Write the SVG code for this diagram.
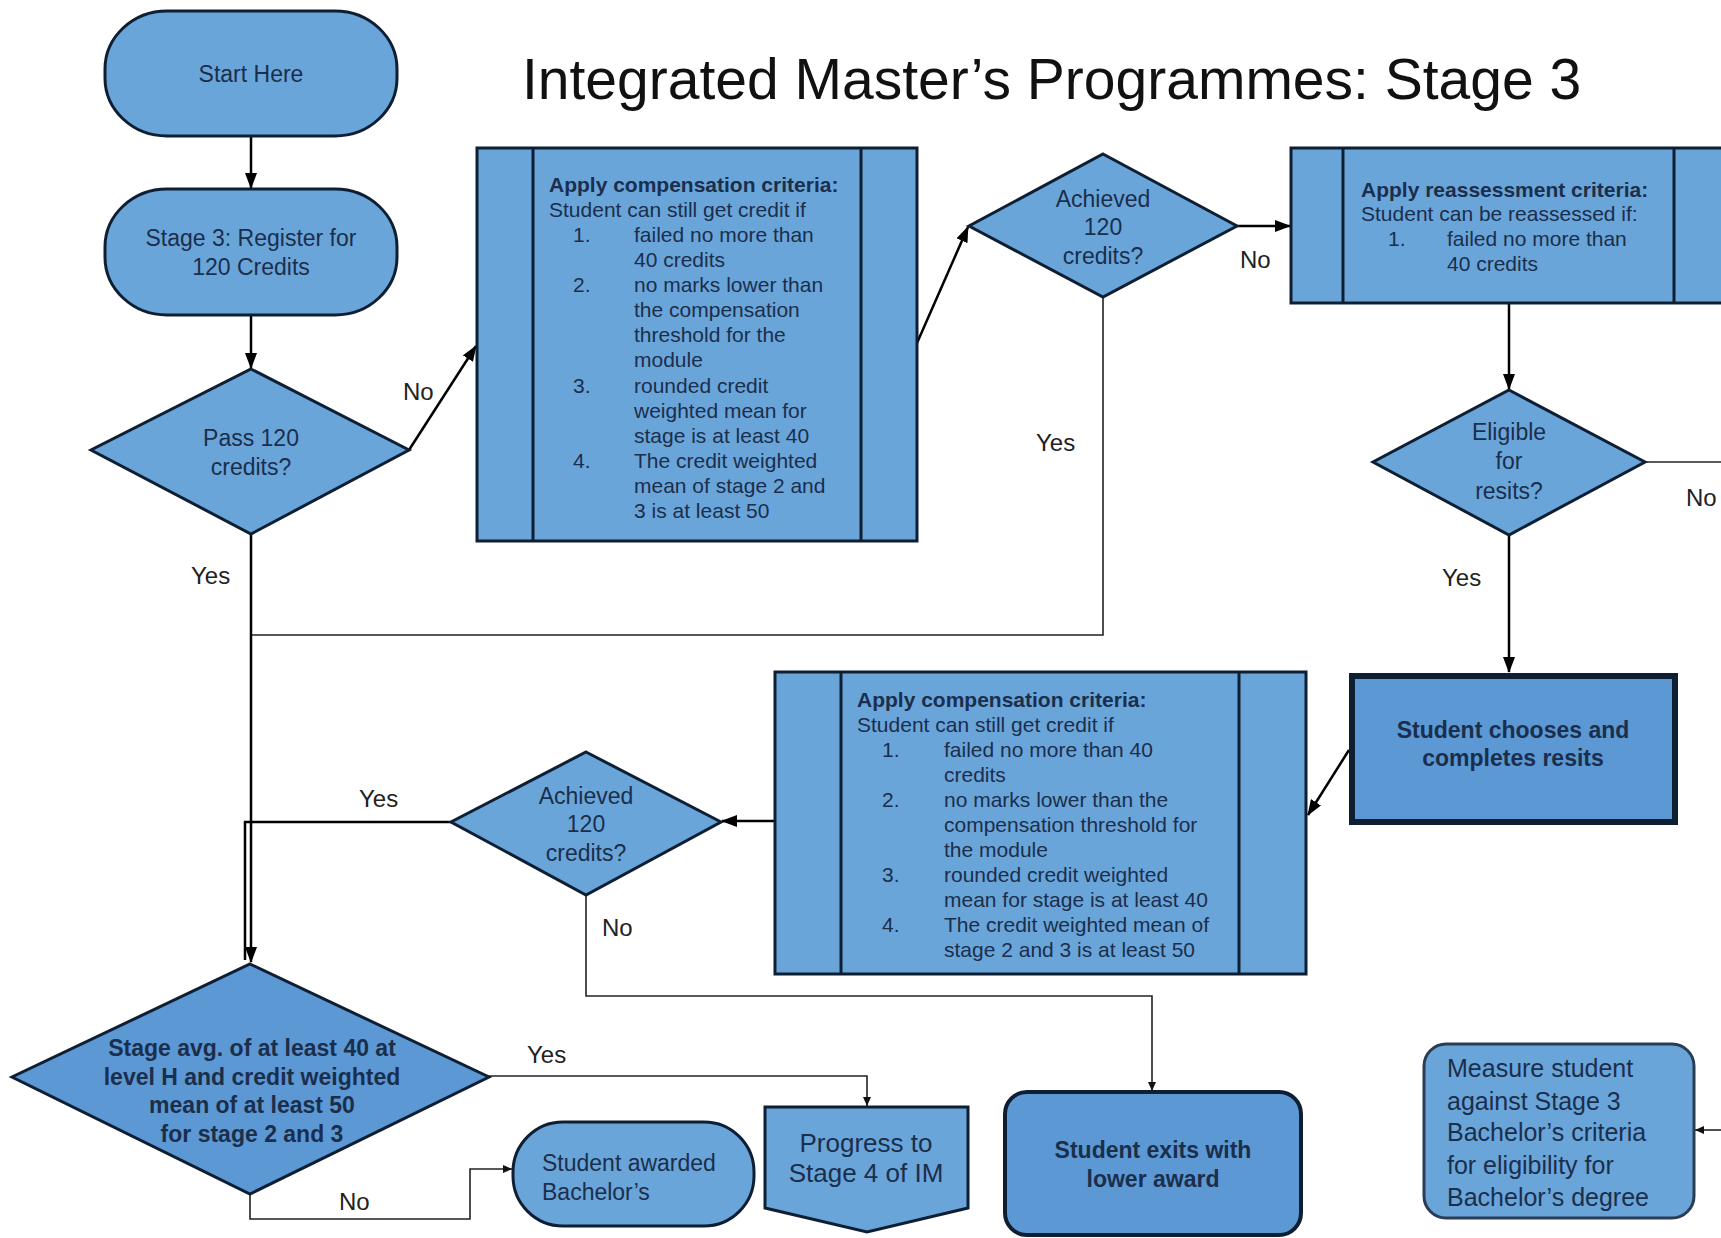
<svg xmlns="http://www.w3.org/2000/svg" width="1721" height="1238" viewBox="0 0 1721 1238">
<defs>
<marker id="ah" markerUnits="userSpaceOnUse" markerWidth="16" markerHeight="12" refX="15" refY="6" orient="auto"><path d="M0,0 L16,6 L0,12 z" fill="#000"/></marker>
<marker id="as" markerUnits="userSpaceOnUse" markerWidth="9" markerHeight="8" refX="9" refY="4" orient="auto"><path d="M0,0 L9,4 L0,8 z" fill="#111"/></marker>
<style>
.n{fill:#6aa5da;stroke:#0f1f33;stroke-width:3}
.d{fill:#5b98d4;stroke:#0f1f33}
.t{font-family:"Liberation Sans",Arial,sans-serif;font-size:23px;fill:#1b2e4b;text-anchor:middle}
.b{font-family:"Liberation Sans",Arial,sans-serif;font-size:21px;fill:#1b2e4b}
.bb{font-weight:bold}
.hb{font-family:"Liberation Sans",Arial,sans-serif;font-size:23px;font-weight:bold;fill:#1b2e4b;text-anchor:middle}
.l{font-family:"Liberation Sans",Arial,sans-serif;font-size:24px;fill:#222}
.c{fill:none;stroke:#000;stroke-width:2.5}
.ct{fill:none;stroke:#222;stroke-width:1.6}
</style>
</defs>
<rect width="1721" height="1238" fill="#fff"/>
<text x="522" y="99" font-family="Liberation Sans, Arial, sans-serif" font-size="57" fill="#111">Integrated Master’s Programmes: Stage 3</text>

<g id="connectors">
<line class="c" x1="251" y1="136" x2="251" y2="188" marker-end="url(#ah)"/>
<line class="c" x1="251" y1="315" x2="251" y2="368" marker-end="url(#ah)"/>
<line class="c" x1="409" y1="450" x2="476" y2="346" marker-end="url(#ah)"/>
<line class="c" x1="917" y1="343" x2="968" y2="227" marker-end="url(#ah)"/>
<line class="c" x1="1237" y1="226" x2="1290" y2="226" marker-end="url(#ah)"/>
<polyline class="ct" points="1103,297 1103,635 251,635"/>
<line class="c" x1="251" y1="534" x2="251" y2="962" marker-end="url(#ah)"/>
<line class="c" x1="1509" y1="303" x2="1509" y2="389" marker-end="url(#ah)"/>
<line class="ct" x1="1645" y1="462" x2="1721" y2="462"/>
<line class="c" x1="1509" y1="535" x2="1509" y2="672" marker-end="url(#ah)"/>
<line class="c" x1="1349" y1="750" x2="1308" y2="815" marker-end="url(#ah)"/>
<line class="c" x1="775" y1="821" x2="722" y2="821" marker-end="url(#ah)"/>
<polyline class="c" points="451,822 245,822 245,960"/>
<polyline class="ct" points="586,895 586,996 1152,996 1152,1091" marker-end="url(#as)"/>
<polyline class="ct" points="489,1076 867,1076 867,1106" marker-end="url(#as)"/>
<polyline class="ct" points="250,1194 250,1219 470,1219 470,1169 512,1169" marker-end="url(#as)"/>
<line class="ct" x1="1721" y1="1130" x2="1695" y2="1130" marker-end="url(#as)"/>
<text class="l" x="403" y="400">No</text>
<text class="l" x="1240" y="268">No</text>
<text class="l" x="1036" y="451">Yes</text>
<text class="l" x="191" y="584">Yes</text>
<text class="l" x="1686" y="506">No</text>
<text class="l" x="1442" y="586">Yes</text>
<text class="l" x="359" y="807">Yes</text>
<text class="l" x="602" y="936">No</text>
<text class="l" x="527" y="1063">Yes</text>
<text class="l" x="339" y="1210">No</text>
</g>

<g id="start">
<rect class="n" x="105" y="11" width="292" height="125" rx="62" ry="58"/>
<text class="t" x="251" y="82">Start Here</text>
</g>
<g id="register">
<rect class="n" x="105" y="189" width="292" height="126" rx="62" ry="58"/>
<text class="t" x="251" y="246">Stage 3: Register for</text>
<text class="t" x="251" y="275">120 Credits</text>
</g>
<g id="pass">
<polygon class="n" points="251,369 409,450 251,534 91,450"/>
<text class="t" x="251" y="446">Pass 120</text>
<text class="t" x="251" y="475">credits?</text>
</g>
<g id="comp1">
<rect class="n" x="477" y="148" width="440" height="393"/>
<line class="n" x1="533" y1="148" x2="533" y2="541"/>
<line class="n" x1="861" y1="148" x2="861" y2="541"/>
<text class="b bb" x="549" y="192">Apply compensation criteria:</text>
<text class="b" x="549" y="217">Student can still get credit if</text>
<text class="b" x="573" y="242">1.</text><text class="b" x="634" y="242">failed no more than</text>
<text class="b" x="634" y="267">40 credits</text>
<text class="b" x="573" y="292">2.</text><text class="b" x="634" y="292">no marks lower than</text>
<text class="b" x="634" y="317">the compensation</text>
<text class="b" x="634" y="342">threshold for the</text>
<text class="b" x="634" y="367">module</text>
<text class="b" x="573" y="393">3.</text><text class="b" x="634" y="393">rounded credit</text>
<text class="b" x="634" y="418">weighted mean for</text>
<text class="b" x="634" y="443">stage is at least 40</text>
<text class="b" x="573" y="468">4.</text><text class="b" x="634" y="468">The credit weighted</text>
<text class="b" x="634" y="493">mean of stage 2 and</text>
<text class="b" x="634" y="518">3 is at least 50</text>
</g>
<g id="achieved1">
<polygon class="n" points="1103,154 1237,226 1103,297 969,226"/>
<text class="t" x="1103" y="207">Achieved</text>
<text class="t" x="1103" y="235">120</text>
<text class="t" x="1103" y="264">credits?</text>
</g>
<g id="reassess">
<rect class="n" x="1291" y="148" width="460" height="155"/>
<line class="n" x1="1343" y1="148" x2="1343" y2="303"/>
<line class="n" x1="1674" y1="148" x2="1674" y2="303"/>
<text class="b bb" x="1361" y="197">Apply reassessment criteria:</text>
<text class="b" x="1361" y="221">Student can be reassessed if:</text>
<text class="b" x="1388" y="246">1.</text><text class="b" x="1447" y="246">failed no more than</text>
<text class="b" x="1447" y="271">40 credits</text>
</g>
<g id="eligible">
<polygon class="n" points="1509,390 1645,462 1509,535 1373,462"/>
<text class="t" x="1509" y="440">Eligible</text>
<text class="t" x="1509" y="469">for</text>
<text class="t" x="1509" y="499">resits?</text>
</g>
<g id="resits">
<rect class="d" x="1352" y="676" width="323" height="146" stroke-width="6"/>
<text class="hb" x="1513" y="738">Student chooses and</text>
<text class="hb" x="1513" y="766">completes resits</text>
</g>
<g id="comp2">
<rect class="n" x="775" y="672" width="531" height="302"/>
<line class="n" x1="841" y1="672" x2="841" y2="974"/>
<line class="n" x1="1239" y1="672" x2="1239" y2="974"/>
<text class="b bb" x="857" y="707">Apply compensation criteria:</text>
<text class="b" x="857" y="732">Student can still get credit if</text>
<text class="b" x="882" y="757">1.</text><text class="b" x="944" y="757">failed no more than 40</text>
<text class="b" x="944" y="782">credits</text>
<text class="b" x="882" y="807">2.</text><text class="b" x="944" y="807">no marks lower than the</text>
<text class="b" x="944" y="832">compensation threshold for</text>
<text class="b" x="944" y="857">the module</text>
<text class="b" x="882" y="882">3.</text><text class="b" x="944" y="882">rounded credit weighted</text>
<text class="b" x="944" y="907">mean for stage is at least 40</text>
<text class="b" x="882" y="932">4.</text><text class="b" x="944" y="932">The credit weighted mean of</text>
<text class="b" x="944" y="957">stage 2 and 3 is at least 50</text>
</g>
<g id="achieved2">
<polygon class="n" points="586,752 721,822 586,895 451,822"/>
<text class="t" x="586" y="804">Achieved</text>
<text class="t" x="586" y="832">120</text>
<text class="t" x="586" y="861">credits?</text>
</g>
<g id="stageavg">
<polygon class="d" stroke-width="3" points="250,964 489,1077 250,1194 12,1077"/>
<text class="hb" x="252" y="1056">Stage avg. of at least 40 at</text>
<text class="hb" x="252" y="1085">level H and credit weighted</text>
<text class="hb" x="252" y="1113">mean of at least 50</text>
<text class="hb" x="252" y="1142">for stage 2 and 3</text>
</g>
<g id="awarded">
<rect class="n" x="513" y="1122" width="241" height="104" rx="50" ry="50" stroke-width="2"/>
<text class="t" x="542" y="1171" style="text-anchor:start">Student awarded</text>
<text class="t" x="542" y="1200" style="text-anchor:start">Bachelor’s</text>
</g>
<g id="progress">
<polygon class="n" stroke-width="2" points="765,1107 968,1107 968,1208 867,1232 765,1208"/>
<text class="t" x="866" y="1152" style="font-size:26px">Progress to</text>
<text class="t" x="866" y="1182" style="font-size:26px">Stage 4 of IM</text>
</g>
<g id="exits">
<rect class="d" x="1005" y="1092" width="296" height="143" rx="22" ry="22" stroke-width="4"/>
<text class="hb" x="1153" y="1158">Student exits with</text>
<text class="hb" x="1153" y="1187">lower award</text>
</g>
<g id="measure">
<rect class="n" x="1424" y="1044" width="270" height="174" rx="22" ry="22" stroke-width="2" style="stroke:#2b3d55"/>
<text class="t" x="1447" y="1077" style="text-anchor:start;font-size:25px">Measure student</text>
<text class="t" x="1447" y="1110" style="text-anchor:start;font-size:25px">against Stage 3</text>
<text class="t" x="1447" y="1141" style="text-anchor:start;font-size:25px">Bachelor’s criteria</text>
<text class="t" x="1447" y="1174" style="text-anchor:start;font-size:25px">for eligibility for</text>
<text class="t" x="1447" y="1206" style="text-anchor:start;font-size:25px">Bachelor’s degree</text>
</g>
</svg>
